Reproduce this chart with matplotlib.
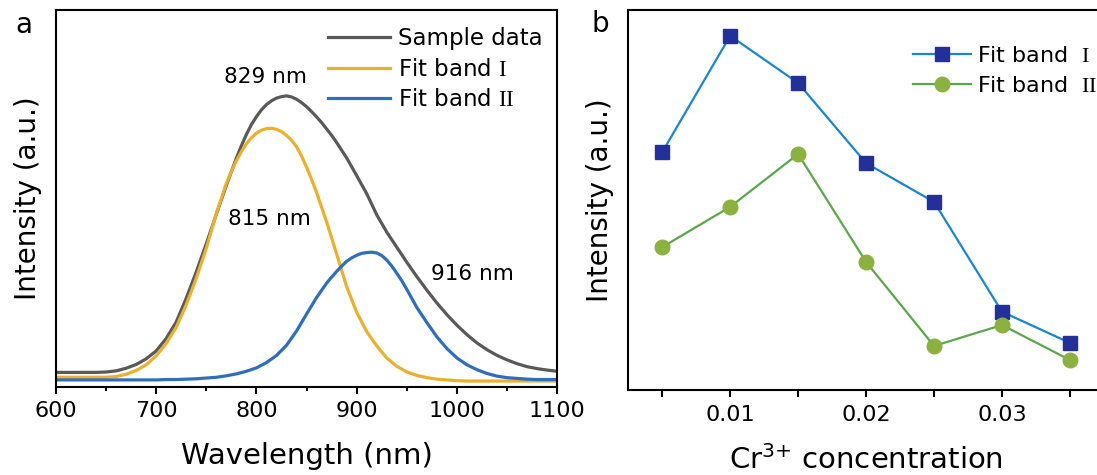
import matplotlib
matplotlib.use("Agg")
import matplotlib.pyplot as plt

plt.rcParams['font.family'] = ['DejaVu Sans']
plt.rcParams['mathtext.fontset'] = 'custom'
plt.rcParams['mathtext.rm'] = 'Liberation Serif'
plt.rcParams['mathtext.sf'] = 'DejaVu Sans'

# panel a: emission spectrum and its two fitted bands (finer steps near the peaks)
sample_x = list(range(600, 781, 10)) + list(range(785, 881, 5)) + list(range(890, 1101, 10))
sample = [0.038, 0.038, 0.038, 0.038, 0.038, 0.039, 0.042, 0.049, 0.059, 0.074,
          0.095, 0.128, 0.172, 0.235, 0.305, 0.380, 0.458, 0.535, 0.607,
          0.640, 0.670, 0.696, 0.717, 0.735, 0.749, 0.759, 0.766, 0.770, 0.772,
          0.769, 0.763, 0.754, 0.743, 0.730, 0.716, 0.701, 0.684, 0.667, 0.648,
          0.607, 0.560, 0.512, 0.456, 0.410, 0.370, 0.330, 0.292, 0.256, 0.222,
          0.191, 0.163, 0.138, 0.116, 0.098, 0.083, 0.071, 0.061, 0.053, 0.048,
          0.044, 0.041]
band1_x = list(range(600, 771, 10)) + list(range(775, 861, 5)) + list(range(870, 1101, 10))
band1 = [0.025, 0.025, 0.025, 0.025, 0.025, 0.025, 0.027, 0.033, 0.043, 0.058,
         0.082, 0.115, 0.158, 0.218, 0.288, 0.368, 0.460, 0.540,
         0.572, 0.600, 0.624, 0.645, 0.661, 0.673, 0.681, 0.685, 0.686, 0.683,
         0.677, 0.667, 0.654, 0.637, 0.612, 0.582, 0.550, 0.515,
         0.437, 0.352, 0.265, 0.197, 0.146, 0.108, 0.076, 0.054, 0.039, 0.030,
         0.024, 0.020, 0.018, 0.016, 0.015, 0.015, 0.015, 0.015, 0.015, 0.015,
         0.015, 0.015, 0.015, 0.015]
band2_x = list(range(600, 871, 10)) + list(range(875, 951, 5)) + list(range(960, 1101, 10))
band2 = [0.018, 0.018, 0.018, 0.018, 0.018, 0.018, 0.018, 0.018, 0.018, 0.018,
         0.018, 0.019, 0.019, 0.020, 0.021, 0.023, 0.025, 0.029, 0.034, 0.041,
         0.050, 0.064, 0.083, 0.110, 0.148, 0.193, 0.237, 0.275,
         0.291, 0.306, 0.320, 0.333, 0.342, 0.349, 0.354, 0.356, 0.357, 0.355,
         0.348, 0.336, 0.320, 0.301, 0.281, 0.258,
         0.210, 0.170, 0.132, 0.101, 0.076, 0.058, 0.045, 0.035, 0.028, 0.024,
         0.022, 0.020, 0.019, 0.019, 0.019]
peak_labels = ['829 nm', '815 nm', '916 nm']
peak_pos = [(809, 0.806), (813, 0.430), (1015, 0.284)]

# panel b: band intensities vs Cr3+ concentration
conc = [0.005, 0.01, 0.015, 0.02, 0.025, 0.03, 0.035]
int_band1 = [0.626, 0.932, 0.808, 0.597, 0.495, 0.206, 0.124]
int_band2 = [0.376, 0.482, 0.621, 0.337, 0.116, 0.171, 0.079]
conc_ticks = [0.005, 0.01, 0.015, 0.02, 0.025, 0.03, 0.035]
conc_ticklabels = ['', '0.01', '', '0.02', '', '0.03', '']

fig = plt.figure(figsize=(10.97, 4.75), dpi=100)
ax1 = fig.add_axes([0.0510, 0.1859, 0.4570, 0.7931])
ax2 = fig.add_axes([0.5727, 0.1789, 0.4336, 0.8000])

ax1.plot(sample_x, sample, color='#595959', lw=2.3, label='Sample data')
ax1.plot(band1_x, band1, color='#EAB02E', lw=2.3, label=r'Fit band $\mathrm{I}$')
ax1.plot(band2_x, band2, color='#2F6EBA', lw=2.3, label=r'Fit band $\mathrm{II}$')
for txt, (x, y) in zip(peak_labels, peak_pos):
    ax1.text(x, y, txt, ha='center', va='baseline', fontsize=15.5)

ax1.set_xlim(600, 1100)
ax1.set_ylim(0, 1)
ax1.set_xticks(range(600, 1101, 100))
ax1.set_xticks(range(650, 1100, 100), minor=True)
ax1.set_yticks([])
ax1.tick_params(axis='x', which='major', direction='out', length=5, width=1.5,
                labelsize=16, pad=5.5)
ax1.tick_params(axis='x', which='minor', direction='out', length=3, width=1.5)
ax1.set_xlabel('Wavelength (nm)', fontsize=21, labelpad=15)
ax1.set_ylabel('Intensity (a.u.)', fontsize=20, labelpad=10)
ax1.legend(loc='upper left', bbox_to_anchor=(0.299, 0.943),
           bbox_transform=fig.transFigure, frameon=False, fontsize=16.5,
           handlelength=2.7, handletextpad=0.35, labelspacing=0.33,
           borderpad=0, borderaxespad=0)

ax2.plot(conc, int_band1, color='#1B86CF', lw=1.6, marker='s', ms=9.4,
         mfc='#24309A', mec='#24309A', label=r'Fit band  $\mathrm{I}$')
ax2.plot(conc, int_band2, color='#5AA84B', lw=1.6, marker='o', ms=10.5,
         mfc='#8BB241', mec='#8BB241', label=r'Fit band  $\mathrm{II}$')
ax2.set_xlim(0.0025, 0.0375)
ax2.set_ylim(0, 1)
ax2.set_xticks(conc_ticks)
ax2.set_xticklabels(conc_ticklabels)
ax2.set_yticks([])
ax2.tick_params(axis='x', direction='out', length=5, width=1.5,
                labelsize=16, pad=5.5)
ax2.set_xlabel(r'Cr$^{\mathregular{3{+}}}$ concentration', fontsize=21, labelpad=15)
ax2.set_ylabel('Intensity (a.u.)', fontsize=20, labelpad=10)
ax2.legend(loc='upper left', bbox_to_anchor=(0.8323, 0.903),
           bbox_transform=fig.transFigure, frameon=False, fontsize=16,
           handlelength=2.6, handletextpad=0.3, labelspacing=0.45,
           borderpad=0, borderaxespad=0)

for ax in (ax1, ax2):
    for s in ax.spines.values():
        s.set_linewidth(1.5)

fig.text(0.0219, 0.947, 'a', fontsize=20, ha='center', va='center')
fig.text(0.547, 0.949, 'b', fontsize=20, ha='center', va='center')

fig.savefig('out.png', dpi=100)
